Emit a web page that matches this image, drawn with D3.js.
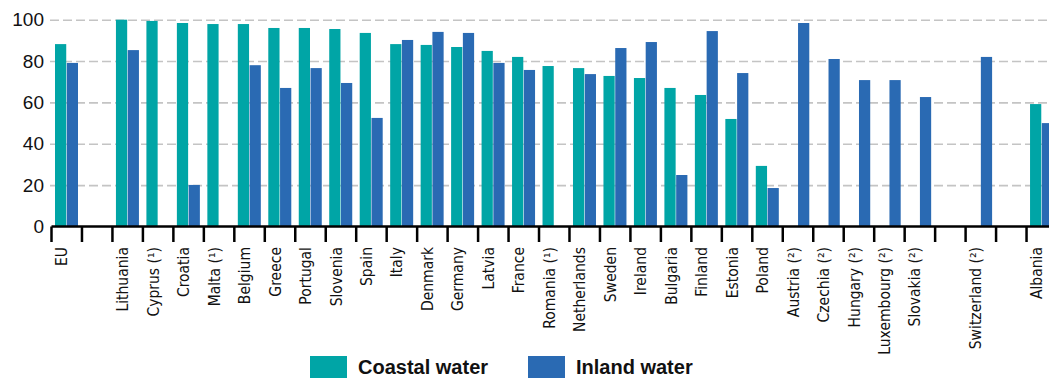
<!DOCTYPE html>
<html>
<head>
<meta charset="utf-8">
<script src="https://cdn.jsdelivr.net/npm/d3@7"></script>
<style>
  body { margin: 0; background: #fff; }
  svg { display: block; }
</style>
</head>
<body>
<svg id="chart" width="1049" height="378"></svg>
<script>
// slots along the x axis ('' = empty gap slot)
const countries = ['EU', '', 'Lithuania', 'Cyprus (\u00b9)', 'Croatia', 'Malta (\u00b9)', 'Belgium', 'Greece', 'Portugal',
  'Slovenia', 'Spain', 'Italy', 'Denmark', 'Germany', 'Latvia', 'France', 'Romania (\u00b9)', 'Netherlands',
  'Sweden', 'Ireland', 'Bulgaria', 'Finland', 'Estonia', 'Poland', 'Austria (\u00b2)', 'Czechia (\u00b2)',
  'Hungary (\u00b2)', 'Luxembourg (\u00b2)', 'Slovakia (\u00b2)', ' ', 'Switzerland (\u00b2)', '  ', 'Albania'];
const coastal = [88.2, null, 100, 99.4, 98.4, 97.9, 97.9, 96.0, 96.0,
  95.5, 93.6, 88.2, 87.8, 86.8, 84.9, 82.0, 77.6, 76.6,
  72.8, 71.8, 67.0, 63.6, 52.0, 29.3, null, null,
  null, null, null, null, null, null, 59.2];
const inland = [79.1, null, 85.3, null, 20.1, null, 78.0, 67.0, 76.6,
  69.4, 52.5, 90.2, 94.1, 93.6, 79.1, 75.7, null, 73.7,
  86.3, 89.2, 24.9, 94.5, 74.2, 18.6, 98.4, 81.0,
  70.8, 70.8, 62.6, null, 82.0, null, 50.0];
const yTicks = [0, 20, 40, 60, 80, 100];
const seriesNames = ['Coastal water', 'Inland water'];
const colors = { 'Coastal water': '#00a5a6', 'Inland water': '#2a6ab3' };

const svg = d3.select('#chart');

const x0 = 51.5, step = 30.47;
const x = d3.scaleBand()
  .domain(countries)
  .range([x0, x0 + step * countries.length]);

const xs = d3.scaleBand()
  .domain(seriesNames)
  .range([3.5, 26.5])
  .paddingInner(0.045);

const y = d3.scaleLinear().domain([0, 100]).range([226.5, 19.7]);

// dashed grid lines
const grid = svg.append('g')
  .attr('transform', 'translate(50,0)')
  .call(d3.axisLeft(y).tickValues(yTicks.filter(v => v > 0)).tickSize(-1000).tickFormat(''));
grid.select('.domain').remove();
grid.selectAll('line')
  .attr('stroke', '#c4c4c4')
  .attr('stroke-width', 1.6)
  .attr('stroke-dasharray', '9,4');

// y labels
svg.append('g')
  .selectAll('text')
  .data(yTicks)
  .enter()
  .append('text')
  .attr('x', 44)
  .attr('y', d => y(d))
  .attr('dy', '0.34em')
  .attr('text-anchor', 'end')
  .style('font-family', 'Liberation Sans, Arial, sans-serif')
  .style('font-size', '19px')
  .attr('fill', '#111')
  .text(d => d);

// bars
const rows = countries.map((c, i) => ({ c: c, vals: [coastal[i], inland[i]] }));
const groups = svg.append('g')
  .selectAll('g')
  .data(rows)
  .enter()
  .append('g')
  .attr('transform', d => 'translate(' + x(d.c) + ',0)');

groups.selectAll('rect')
  .data(d => d.vals.map((v, j) => ({ s: seriesNames[j], v: v })).filter(e => e.v != null))
  .enter()
  .append('rect')
  .attr('x', d => xs(d.s))
  .attr('width', xs.bandwidth())
  .attr('y', d => y(d.v))
  .attr('height', d => y(0) - y(d.v))
  .attr('fill', d => colors[d.s]);

// x axis line + tick marks
const bounds = countries.map(c => x(c)).concat([x0 + step * countries.length]);
svg.append('line')
  .attr('x1', x0).attr('x2', 1049)
  .attr('y1', y(0)).attr('y2', y(0))
  .attr('stroke', '#000').attr('stroke-width', 2.5);
svg.append('g')
  .selectAll('line')
  .data(bounds)
  .enter()
  .append('line')
  .attr('x1', d => d).attr('x2', d => d)
  .attr('y1', y(0)).attr('y2', 242)
  .attr('stroke', '#000').attr('stroke-width', 2.5);

// rotated country labels
svg.append('g')
  .selectAll('text')
  .data(countries.filter(c => c.trim() !== ''))
  .enter()
  .append('text')
  .attr('transform', d => 'translate(' + (x(d) + x.bandwidth() / 2 - 5) + ',247) rotate(-90)')
  .attr('dy', '0.36em')
  .attr('text-anchor', 'end')
  .style('font-family', 'Liberation Sans Narrow, DejaVu Sans Condensed, sans-serif')
  .style('font-size', '15.5px')
  .attr('fill', '#111')
  .text(d => d);

// legend
const legendX = [310, 528];
const legend = svg.append('g')
  .selectAll('g')
  .data(seriesNames)
  .enter()
  .append('g')
  .attr('transform', (d, i) => 'translate(' + legendX[i] + ',356)');
legend.append('rect')
  .attr('width', 37).attr('height', 22)
  .attr('fill', d => colors[d]);
legend.append('text')
  .attr('x', 48).attr('y', 18)
  .style('font-family', 'Liberation Sans, Arial, sans-serif')
  .style('font-size', '20px')
  .style('font-weight', 'bold')
  .attr('fill', '#111')
  .text(d => d);
</script>
</body>
</html>
